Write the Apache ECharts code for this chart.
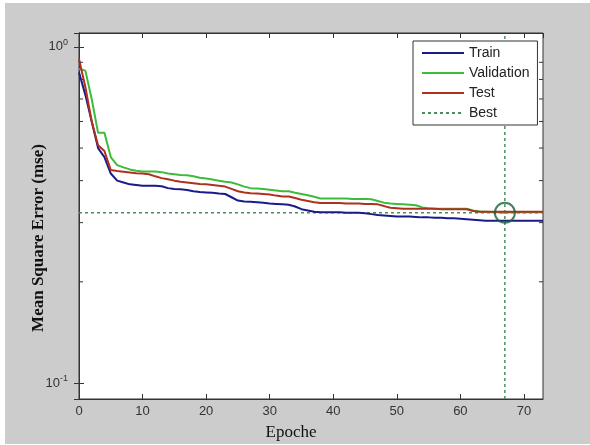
<!DOCTYPE html>
<html>
<head>
<meta charset="utf-8">
<script src="https://cdn.jsdelivr.net/npm/echarts@6/dist/echarts.min.js"></script>
<style>html,body{margin:0;padding:0;background:#fff}#c{width:590px;height:445px}</style>
</head>
<body>
<div id="c"></div>
<script>
const epochs = Array.from({length: 74}, (_, i) => i);
const train = [0.84,0.72,0.60,0.50,0.47,0.42,0.40,0.395,0.39,0.388,
  0.386,0.386,0.386,0.385,0.38,0.378,0.377,0.375,0.372,0.370,
  0.369,0.368,0.366,0.365,0.357,0.349,0.347,0.346,0.345,0.344,
  0.342,0.341,0.340,0.339,0.335,0.329,0.326,0.323,0.322,0.322,
  0.322,0.322,0.321,0.321,0.321,0.320,0.318,0.316,0.315,0.314,
  0.313,0.313,0.313,0.312,0.311,0.311,0.310,0.310,0.309,0.309,
  0.308,0.307,0.306,0.305,0.304,0.304,0.304,0.304,0.304,0.304,
  0.304,0.304,0.304,0.304];
const validation = [0.86,0.85,0.70,0.555,0.555,0.47,0.445,0.438,0.432,0.428,
  0.426,0.426,0.426,0.424,0.42,0.418,0.416,0.415,0.412,0.408,
  0.406,0.403,0.400,0.397,0.395,0.39,0.384,0.380,0.379,0.378,
  0.376,0.374,0.372,0.372,0.368,0.365,0.362,0.358,0.354,0.354,
  0.354,0.354,0.354,0.353,0.353,0.353,0.352,0.348,0.344,0.342,
  0.341,0.340,0.339,0.338,0.333,0.331,0.330,0.330,0.330,0.330,
  0.330,0.330,0.326,0.324,0.323,0.322,0.322,0.321,0.322,0.322,
  0.322,0.322,0.322,0.322];
const test = [0.92,0.76,0.60,0.51,0.49,0.43,0.427,0.425,0.423,0.421,
  0.420,0.418,0.412,0.407,0.404,0.400,0.397,0.395,0.393,0.391,
  0.390,0.388,0.386,0.384,0.378,0.372,0.369,0.367,0.366,0.365,
  0.364,0.361,0.359,0.359,0.355,0.351,0.348,0.345,0.343,0.343,
  0.343,0.343,0.342,0.342,0.342,0.341,0.341,0.340,0.336,0.332,
  0.331,0.330,0.330,0.330,0.330,0.330,0.330,0.329,0.329,0.329,
  0.329,0.329,0.325,0.323,0.323,0.323,0.323,0.323,0.323,0.323,
  0.323,0.323,0.323,0.323];
const bestEpoch = 67;
const bestValue = 0.321;
const yMinorTicks = [0.2,0.3,0.4,0.5,0.6,0.7,0.8,0.9];
const xMin = 0, xMax = 73, yMin = 0.0896, yMax = 1.10;

const pair = arr => arr.map((v, i) => [epochs[i], v]);

const axisColor = '#333';
const chart = echarts.init(document.getElementById('c'), null, {renderer: 'canvas'});
const supFmt = v => {
  const p = Math.round(Math.log10(v));
  if (Math.abs(Math.log10(v) - p) > 1e-6) return '';
  return '10{sup|' + p + '}';
};
chart.setOption({
  backgroundColor: '#fff',
  animation: false,
  graphic: [
    {type: 'rect', z: -10, shape: {x: 5, y: 3, width: 585, height: 441}, style: {fill: '#cccccc'}},
    {type: 'text', x: 291, y: 433, z: 10,
     style: {text: 'Epoche', font: '17px "Liberation Serif"', fill: '#111', textAlign: 'center', textVerticalAlign: 'middle'}},
    {type: 'text', x: 39, y: 238, rotation: Math.PI / 2, z: 10,
     style: {text: 'Mean Square Error (mse)', font: 'bold 17px "Liberation Serif"', fill: '#111', textAlign: 'center', textVerticalAlign: 'middle'}}
  ],
  grid: {left: 79, top: 33, right: 47, bottom: 46, show: true, backgroundColor: '#fff', borderColor: axisColor, borderWidth: 1},
  legend: {
    orient: 'vertical', left: 413, top: 41,
    data: ['Train', 'Validation', 'Test', 'Best'],
    backgroundColor: '#fff', borderColor: axisColor, borderWidth: 1,
    padding: [5, 8, 5, 8], itemWidth: 42, itemHeight: 14, itemGap: 6,
    itemStyle: {opacity: 0},
    textStyle: {fontFamily: 'Liberation Sans', fontSize: 14, color: '#222'}
  },
  xAxis: [
    {type: 'value', min: xMin, max: xMax, interval: 10, position: 'bottom',
     axisLine: {lineStyle: {color: axisColor}}, splitLine: {show: false},
     axisTick: {inside: true, length: 5, lineStyle: {color: axisColor}},
     axisLabel: {showMaxLabel: false, color: '#333', fontFamily: 'Liberation Sans', fontSize: 13, margin: 6}},
    {type: 'value', min: xMin, max: xMax, interval: 10, position: 'top',
     axisLine: {lineStyle: {color: axisColor}}, splitLine: {show: false},
     axisTick: {inside: true, length: 5, lineStyle: {color: axisColor}},
     axisLabel: {show: false}}
  ],
  yAxis: [
    {type: 'log', logBase: 10, min: yMin, max: yMax, position: 'left',
     axisLine: {show: true, lineStyle: {color: axisColor}}, splitLine: {show: false},
     axisTick: {inside: true, length: 5, lineStyle: {color: axisColor}},
     axisLabel: {formatter: supFmt, color: '#333', fontFamily: 'Liberation Sans', fontSize: 13, margin: 11,
       rich: {sup: {fontSize: 9, verticalAlign: 'top', padding: [0, 0, 8, 0], color: '#333'}}}},
    {type: 'log', logBase: 10, min: yMin, max: yMax, position: 'right',
     axisLine: {show: true, lineStyle: {color: axisColor}}, splitLine: {show: false},
     axisTick: {inside: true, length: 5, lineStyle: {color: axisColor}},
     axisLabel: {show: false}}
  ],
  series: [
    {name: 'Train', type: 'line', data: pair(train), showSymbol: false, symbol: 'none',
     lineStyle: {color: '#1a1a88', width: 2}, itemStyle: {color: '#1a1a88'}, z: 3},
    {name: 'Validation', type: 'line', data: pair(validation), showSymbol: false, symbol: 'none',
     lineStyle: {color: '#3dbb3d', width: 2}, itemStyle: {color: '#3dbb3d'}, z: 4},
    {name: 'Test', type: 'line', data: pair(test), showSymbol: false, symbol: 'none',
     lineStyle: {color: '#b0301e', width: 2}, itemStyle: {color: '#b0301e'}, z: 5},
    {name: 'Best', type: 'line', data: [[xMin, bestValue], [xMax, bestValue], ['-', '-'], [bestEpoch, yMin], [bestEpoch, yMax]],
     showSymbol: false, symbol: 'none', connectNulls: false,
     lineStyle: {color: '#4c8c5c', width: 1.5, type: [3, 3]}, itemStyle: {color: '#4c8c5c'}, z: 2},
    {name: 'bestMarker', type: 'scatter', data: [[bestEpoch, bestValue]], symbol: 'circle', symbolSize: 20,
     itemStyle: {color: 'rgba(0,0,0,0)', borderColor: '#16623a', borderWidth: 2}, z: 6, silent: true},
    {name: 'minorTicks', type: 'custom', data: yMinorTicks.map(v => [xMin, v]), silent: true, z: 7,
     renderItem: (params, api) => {
       const l = api.coord([xMin, api.value(1)]);
       const r = api.coord([xMax, api.value(1)]);
       return {type: 'group', children: [
         {type: 'line', shape: {x1: l[0], y1: l[1], x2: l[0] + 4, y2: l[1]}, style: {stroke: axisColor, lineWidth: 1}},
         {type: 'line', shape: {x1: r[0] - 4, y1: r[1], x2: r[0], y2: r[1]}, style: {stroke: axisColor, lineWidth: 1}}
       ]};
     }}
  ]
});
</script>
</body>
</html>
